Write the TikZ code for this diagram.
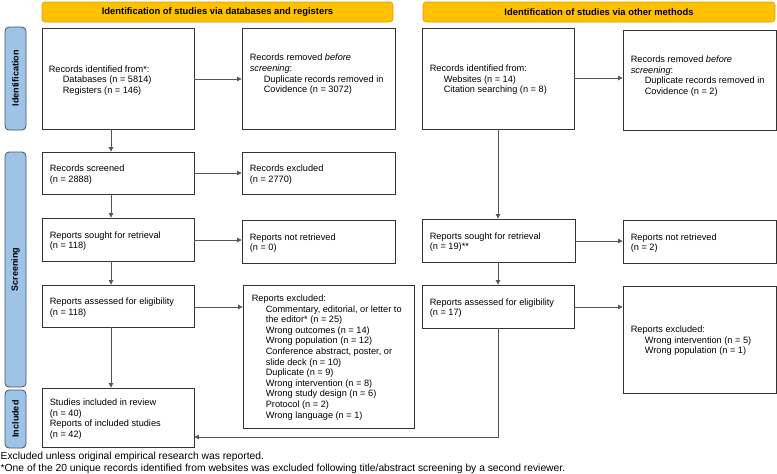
\documentclass[tikz,border=0pt]{standalone}
\usepackage{fontspec}
\setmainfont{Liberation Sans}
\usetikzlibrary{arrows.meta,fit,positioning}
\definecolor{hdrfill}{HTML}{FFC000}
\definecolor{hdrdraw}{HTML}{D9A300}
\definecolor{sbfill}{HTML}{9DC3E6}
\definecolor{sbdraw}{HTML}{44546A}
\definecolor{boxdraw}{HTML}{333333}
\definecolor{arrcol}{HTML}{555555}
\tikzset{
  box/.style={draw=boxdraw, line width=0.8pt, fill=white, inner sep=0pt},
  hdr/.style={draw=hdrdraw, line width=0.6pt, fill=hdrfill, rounded corners=3pt, inner sep=0pt},
  sb/.style={draw=sbdraw, line width=0.8pt, fill=sbfill, rounded corners=4pt, inner sep=0pt},
  txt/.style={font=\fontsize{9.2}{10.6}\selectfont, align=left, inner sep=0pt, anchor=west},
  fntxt/.style={font=\fontsize{10.3}{12}\selectfont, align=left, inner sep=0pt, anchor=west},
  hdrtxt/.style={font=\fontsize{9.4}{10.6}\selectfont\bfseries, inner sep=0pt},
  sbtxt/.style={font=\fontsize{9}{10.6}\selectfont\bfseries, inner sep=0pt, rotate=90},
  arr/.style={draw=arrcol, line width=0.7pt, -{Triangle[length=4.5pt,width=4.5pt]}},
}
\newcommand{\ind}{\hspace*{14pt}}
\begin{document}
\begin{tikzpicture}[x=1pt,y=-1pt]
\useasboundingbox (0,0) rectangle (777,474);
% headers
\node[hdr, fit={(42,2) (393,22)}] (hL) {};
\node[hdrtxt] (hLt) at (hL.center) {Identification of studies via databases and registers};
\node[hdr, fit={(423,2) (775,22)}] (hR) {};
\node[hdrtxt] (hRt) at (hR.center) {Identification of studies via other methods};
% side bars
\node[sb, fit={(5,27) (26,130)}] (sbI) {};
\node[sbtxt] (sbIt) at (sbI.center) {Identification};
\node[sb, fit={(5,152) (26,387)}] (sbS) {};
\node[sbtxt] (sbSt) at (sbS.center) {Screening};
\node[sb, fit={(5,390) (26,448)}] (sbN) {};
\node[sbtxt] (sbNt) at (sbN.center) {Included};
% boxes
\node[box, fit={(42,28) (194,129)}] (A) {};
\node[box, fit={(242,28) (395,129)}] (B) {};
\node[box, fit={(422,28) (574,129)}] (C) {};
\node[box, fit={(623,30) (776,130)}] (D) {};
\node[box, fit={(42,152) (194,194)}] (scr) {};
\node[box, fit={(242,152) (395,194)}] (exc) {};
\node[box, fit={(42,218) (194,261)}] (sgt) {};
\node[box, fit={(242,220) (395,263)}] (nrt) {};
\node[box, fit={(42,285) (194,327)}] (asm) {};
\node[box, fit={(243,285) (414,428)}] (exl) {};
\node[box, fit={(42,388) (194,447)}] (inc) {};
\node[box, fit={(422,219) (575,262)}] (sgtR) {};
\node[box, fit={(623,220) (776,263)}] (nrtR) {};
\node[box, fit={(422,285) (574,328)}] (asmR) {};
\node[box, fit={(623,286) (776,393)}] (exlR) {};
% texts
\node[txt] (At) at ([xshift=7pt,yshift=-2pt]A.west) {Records identified from*:\\\ind Databases (n = 5814)\\\ind Registers (n = 146)};
\node[txt] (Bt) at ([xshift=8pt,yshift=4pt]B.west) {Records removed \textit{before}\\\textit{screening}:\\\ind Duplicate records removed in\\\ind Covidence (n = 3072)};
\node[txt] (Ct) at ([xshift=8pt,yshift=-1.5pt]C.west) {Records identified from:\\\ind Websites (n = 14)\\\ind Citation searching (n = 8)};
\node[txt] (Dt) at ([xshift=8pt,yshift=4pt]D.west) {Records removed \textit{before}\\\textit{screening}:\\\ind Duplicate records removed in\\\ind Covidence (n = 2)};
\node[txt] (scrt) at ([xshift=8pt,yshift=-1.5pt]scr.west) {Records screened\\(n = 2888)};
\node[txt] (exct) at ([xshift=8pt,yshift=-1.5pt]exc.west) {Records excluded\\(n = 2770)};
\node[txt] (sgtt) at ([xshift=8pt,yshift=-1.5pt]sgt.west) {Reports sought for retrieval\\(n = 118)};
\node[txt] (nrtt) at ([xshift=8pt,yshift=-1.5pt]nrt.west) {Reports not retrieved\\(n = 0)};
\node[txt] (asmt) at ([xshift=8pt,yshift=-1.5pt]asm.west) {Reports assessed for eligibility\\(n = 118)};
\node[txt] (exlt) at ([xshift=9pt,yshift=-1pt]exl.west) {Reports excluded:\\\ind Commentary, editorial, or letter to\\\ind the editor* (n = 25)\\\ind Wrong outcomes (n = 14)\\\ind Wrong population (n = 12)\\\ind Conference abstract, poster, or\\\ind slide deck (n = 10)\\\ind Duplicate (n = 9)\\\ind Wrong intervention (n = 8)\\\ind Wrong study design (n = 6)\\\ind Protocol (n = 2)\\\ind Wrong language (n = 1)};
\node[txt] (inct) at ([xshift=8pt,yshift=-1.5pt]inc.west) {Studies included in review\\(n = 40)\\Reports of included studies\\(n = 42)};
\node[txt] (sgtRt) at ([xshift=8pt,yshift=-1.5pt]sgtR.west) {Reports sought for retrieval\\(n = 19)**};
\node[txt] (nrtRt) at ([xshift=8pt,yshift=-1.5pt]nrtR.west) {Reports not retrieved\\(n = 2)};
\node[txt] (asmRt) at ([xshift=8pt,yshift=-1.5pt]asmR.west) {Reports assessed for eligibility\\(n = 17)};
\node[txt] (exlRt) at ([xshift=8pt,yshift=-1.5pt]exlR.west) {Reports excluded:\\\ind Wrong intervention (n = 5)\\\ind Wrong population (n = 1)};
% footnotes
\node[fntxt] (fn1) at (0.5,457) {Excluded unless original empirical research was reported.};
\node[fntxt] (fn2) at (0.5,468.5) {*One of the 20 unique records identified from websites was excluded following title/abstract screening by a second reviewer.};
% connectors
\coordinate (lx) at (111,0);
\draw[arr] (A.east |- 0,79) -- (B.west |- 0,79);
\draw[arr] (C.east |- 0,78) -- (D.west |- 0,78);
\draw[arr] (scr.east |- 0,173) -- (exc.west |- 0,173);
\draw[arr] (sgt.east |- 0,240) -- (nrt.west |- 0,240);
\draw[arr] (asm.east |- 0,307) -- (exl.west |- 0,307);
\draw[arr] (sgtR.east |- 0,241) -- (nrtR.west |- 0,241);
\draw[arr] (asmR.east |- 0,307) -- (exlR.west |- 0,307);
\draw[arr] (A.south -| lx) -- (scr.north -| lx);
\draw[arr] (scr.south -| lx) -- (sgt.north -| lx);
\draw[arr] (sgt.south -| lx) -- (asm.north -| lx);
\draw[arr] (asm.south -| lx) -- (inc.north -| lx);
\draw[arr] (C.south) -- (sgtR.north -| C.south);
\draw[arr] (sgtR.south -| asmR.north) -- (asmR.north);
\coordinate (bend) at (asmR.south |- 0,437);
\draw[arr] (asmR.south) -- (bend) -- (inc.east |- bend);
\end{tikzpicture}
\end{document}
